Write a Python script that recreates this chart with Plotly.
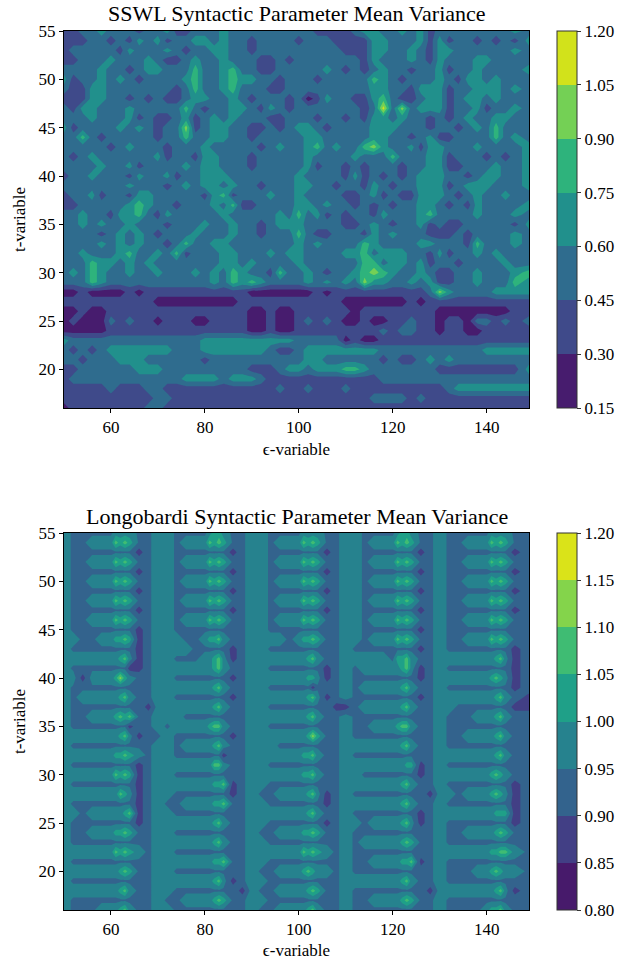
import plotly.graph_objects as go

TITLE_TOP = "SSWL Syntactic Parameter Mean Variance"
TITLE_BOTTOM = "Longobardi Syntactic Parameter Mean Variance"
X_LABEL = "ϵ-variable"
Y_LABEL = "t-variable"
X_TICKS = [60, 80, 100, 120, 140]
Y_TICKS = [20, 25, 30, 35, 40, 45, 50, 55]
T_VALUES = list(range(55, 15, -1))

# SSWL: epsilon sampled every 2 units; one row per t from 55 down to 16.
# Each digit indexes the value table below, as read from the picture.
SSWL_EPS = list(range(50, 148, 2)) + [149]
SSWL_LEVELS = [0.15, 0.30, 0.45, 0.60, 0.75, 0.90, 1.05, 1.20]
SSWL_VALUES = [0.225, 0.375, 0.525, 0.675, 0.825, 0.975, 1.125]
SSWL_COLORS = ["#471c6e", "#3f4a8a", "#2f6c8e", "#21908c", "#2eb37c", "#74d055", "#d2e21b"]
SSWL_BANDS = [
    "1122322212 2311222322 2222222111 1233223231 2222222232",
    "1112212132 3122332322 1222212221 1113322231 3122121213",
    "1222221322 2321223322 1222222222 1113322321 3322222232",
    "1122232223 2112322322 2112122222 2213222321 3222332222",
    "2222322123 3222422342 2112222232 1212322122 3122322223",
    "3122323212 2223422343 3221222122 2224321222 3213323222",
    "2113322222 2212422342 2211222222 2223322133 3122333232",
    "1113322121 2112332232 1222120132 2113421123 3123323222",
    "2133222322 2224212233 2132122222 2212625233 3122312232",
    "2223222312 1123123232 2211222122 1213323221 2123223322",
    "3122223232 1225123322 1121233212 2223332221 2212324222",
    "2242122222 1224223322 1222223322 2223322123 1122224232",
    "2222212322 2122232222 2123223423 2245322313 3222322223",
    "2123222222 3122133222 1222223222 2322242223 3122212123",
    "2222322312 2223233222 1222223122 1212221223 3112223223",
    "1223222132 2312233322 2222232222 1312121233 3221233223",
    "2222222322 2123233232 2122233221 2213212233 3123332223",
    "1223122133 2222213412 2232232222 1123121133 3212322322",
    "1122222343 2212223241 1222233232 2121212233 2121322223",
    "2232213342 1322222322 2223242312 1221322234 2222322232",
    "2232322322 2122232232 2123332222 1123212231 2112222213",
    "2222123232 1222322232 2122242112 2213232221 1121222232",
    "2222323232 2124223322 2222232322 2243222233 2221422232",
    "2232223422 3241222332 2232332222 3342333221 3122323222",
    "2224332323 2222222332 3222232222 2244233231 2212222322",
    "2324322322 3222323243 2214223212 2345432232 1122322234",
    "2224322222 2222223243 4322223232 3253322323 1122322243",
    "0010000101 1111111111 0000000101 1111111112 5322223333",
    "1111111111 0000000001 1111111111 0000000101 1111111111",
    "0010011111 1111111111 0010011111 1011111111 0000000011",
    "0100021211 0111001111 0010012121 0010011211 0110221212",
    "0000011111 1111111111 0010011111 1111212211 0110011111",
    "3222222222 2222233333 3333322222 0100111111 1111111111",
    "2121233333 3322233333 3321123333 3333222222 2222233333",
    "2212223332 2222212222 2222223322 2222121123 2322222222",
    "1122222233 3222222222 1112332333 4432222222 1111111113",
    "1222222222 2223333233 3211111111 1111222222 2222222222",
    "1111121112 2111111111 1112112111 2111111111 1233333333",
    "1111111111 2211111111 1111111111 1112222121 1111111111",
    "0111111112 2111111111 1111111111 1111111111 1111111111",
]

# Longobardi: every even epsilon, plus the odd columns around each bright peak.
LONG_EPS = [50, 52, 54, 56, 58, 60, 61, 62, 63, 64, 66, 68,
            70, 72, 74, 76, 78, 80, 81, 82, 83, 84, 86, 88,
            90, 92, 94, 96, 98, 100, 101, 102, 103, 104, 106, 108,
            110, 112, 114, 116, 118, 120, 121, 122, 123, 124, 126, 128,
            130, 132, 134, 136, 138, 140, 141, 142, 143, 144, 146, 149]
LONG_LEVELS = [0.80, 0.85, 0.90, 0.95, 1.00, 1.05, 1.10, 1.15, 1.20]
LONG_VALUES = [0.825, 0.875, 0.94, 0.975, 1.025, 1.075, 1.125, 1.175]
LONG_COLORS = ["#471a6b", "#423f85", "#33638d", "#26828e", "#1fa088", "#3fbc73", "#84d44b", "#dae319"]
LONG_BANDS = [
    "322222333322 332222344322 332222333322 332222344322 322222333322",
    "322333545422 332333545422 332333545422 332333545422 322333545422",
    "322222222212 332222222212 332222222212 332222222212 322222222212",
    "322333545422 332333545422 332333545422 332333545422 322333545422",
    "322222222212 332222222212 332222222212 332222222212 322222222212",
    "322333545422 332333545422 332333545422 332333545422 322333545422",
    "322222222212 332222222212 332222222212 332222222212 322222222212",
    "322333545422 332333545422 332333545422 332333545422 322333545422",
    "322222222212 332222222212 332222222212 332222222212 322222222212",
    "322333545422 332333545422 332333545422 332333545422 322333545422",
    "322222222212 332222222222 332222222222 332222222212 322222222222",
    "332233445412 333223445322 333323445422 332333545422 322333545422",
    "322222222212 333322222212 332222222222 322222222212 322222222212",
    "333333345312 332223345312 333333345322 333332445322 333333345312",
    "322222222112 333333345322 332222222212 323333345312 322222222212",
    "331333464322 332222222212 333333344312 322222222212 333333454312",
    "322222222222 333333345322 332222221222 323333345322 322222222212",
    "323333345322 332222222212 333333345312 322222222212 333333345321",
    "322222222221 333333345322 332222222221 123333345322 332222222211",
    "322333454522 333222222222 333333345322 322222222222 322233345322",
    "322222222122 323333455322 332222222222 322333455322 322222222222",
    "333333345312 232222222212 333333346422 322222222222 322333345322",
    "322222222222 332333345322 333222222222 333333345322 322222222222",
    "333333445432 332222222122 333333445322 322222222222 333333345322",
    "322222222212 333333355322 332222222222 333333334412 322222222222",
    "333333545412 332222222222 333333445322 332222222212 333333454322",
    "322222222212 333333344512 332222222222 333333345322 322222222212",
    "333333354312 332222222212 322333345312 322222222221 332333454312",
    "322222222212 322333344522 332222222212 333333345322 322222222212",
    "332333334512 332222222222 333333345322 322222222212 333333344412",
    "322222222212 333333345322 332222222212 332333345312 322222222212",
    "322333445422 332222222222 322333445422 322222222222 322333345422",
    "322222222222 333333345322 332222222222 323333345422 322222222222",
    "333333545432 332222222222 333333545432 322222222222 333333445532",
    "322222222222 333333344522 332222222222 322333344512 322222222222",
    "333333345422 332222222222 322333454332 322222222222 322233454332",
    "322222222222 333333345312 332222222222 333333345322 322222222222",
    "333333345322 332222222221 322333345422 322222222221 333333345312",
    "322222222222 322333345422 332222222222 322333345422 322222222222",
    "322233345322 332222222222 322333345322 322222222222 322223445322",
]


def to_grid(bands, values):
    return [[values[int(c)] for c in row.replace(" ", "")] for row in bands]


def band_scale(colors, den):
    # Band i is painted with the scale's colour at (i + 1) / den.
    n = len(colors)
    scale = []
    for i, c in enumerate(colors):
        lo = 0 if i == 0 else (i + 0.5) / den
        hi = 1 if i == n - 1 else (i + 1.5) / den
        scale.append([lo, c])
        scale.append([hi, c])
    return scale


FONT = "Liberation Serif"
W, H = 620, 960
AX_L, AX_R = 64, 529
CB_L = 557
PANELS = [(31, 408), (533, 910)]


def contour(eps, bands, values, levels, colors, den, xa, ya, top, bottom):
    size = round(levels[1] - levels[0], 3)
    return go.Contour(
        x=eps, y=T_VALUES, z=to_grid(bands, values), xaxis=xa, yaxis=ya,
        autocontour=False, zmin=levels[0], zmax=levels[-1],
        contours=dict(start=levels[0], end=levels[-1], size=size, coloring="fill", showlines=False),
        line=dict(width=0, smoothing=0), colorscale=band_scale(colors, den),
        colorbar=dict(
            x=CB_L / W, xanchor="left", thickness=20, thicknessmode="pixels",
            y=1 - bottom / H, yanchor="bottom", len=(bottom - top) / H, lenmode="fraction",
            xpad=0, ypad=0, outlinecolor="#333333", outlinewidth=1,
            tickmode="array", tickvals=levels, ticktext=[f"{v:.2f}" for v in levels],
            ticks="outside", ticklen=4, tickwidth=1, tickcolor="#333333",
            tickfont=dict(family=FONT, size=17, color="black"),
        ),
    )


fig = go.Figure()
fig.add_trace(contour(SSWL_EPS, SSWL_BANDS, SSWL_VALUES, SSWL_LEVELS, SSWL_COLORS, 8, "x", "y", *PANELS[0]))
fig.add_trace(contour(LONG_EPS, LONG_BANDS, LONG_VALUES, LONG_LEVELS, LONG_COLORS, 8, "x2", "y2", *PANELS[1]))

x_common = dict(range=[50, 149], tickvals=X_TICKS, ticks="outside", ticklen=4, tickcolor="black",
                showline=True, mirror=True, linecolor="black", linewidth=1, showgrid=False, zeroline=False,
                tickfont=dict(family=FONT, size=17, color="black"),
                title=dict(text=X_LABEL, font=dict(family=FONT, size=17, color="black"), standoff=6))
y_common = dict(range=[16, 55], tickvals=Y_TICKS, ticks="outside", ticklen=4, tickcolor="black",
                showline=True, mirror=True, linecolor="black", linewidth=1, showgrid=False, zeroline=False,
                tickfont=dict(family=FONT, size=17, color="black"),
                title=dict(text=Y_LABEL, font=dict(family=FONT, size=17, color="black"), standoff=8))

fig.update_layout(
    width=W, height=H, autosize=False, margin=dict(l=0, r=0, t=0, b=0, autoexpand=False),
    paper_bgcolor="white", plot_bgcolor="white", showlegend=False,
    xaxis=dict(domain=[AX_L / W, AX_R / W], anchor="y", **x_common),
    yaxis=dict(domain=[1 - PANELS[0][1] / H, 1 - PANELS[0][0] / H], anchor="x", **y_common),
    xaxis2=dict(domain=[AX_L / W, AX_R / W], anchor="y2", **x_common),
    yaxis2=dict(domain=[1 - PANELS[1][1] / H, 1 - PANELS[1][0] / H], anchor="x2", **y_common),
    annotations=[
        dict(text=TITLE_TOP, x=(AX_L + AX_R) / 2 / W, y=1 - 14 / H, xref="paper", yref="paper", showarrow=False,
             xanchor="center", yanchor="middle", font=dict(family=FONT, size=22, color="black")),
        dict(text=TITLE_BOTTOM, x=(AX_L + AX_R) / 2 / W, y=1 - 516 / H, xref="paper", yref="paper", showarrow=False,
             xanchor="center", yanchor="middle", font=dict(family=FONT, size=22, color="black")),
    ],
)

fig.write_html("out.html", config={"displayModeBar": False},
               post_script="document.body.style.margin='0';document.documentElement.style.overflow='hidden';")
